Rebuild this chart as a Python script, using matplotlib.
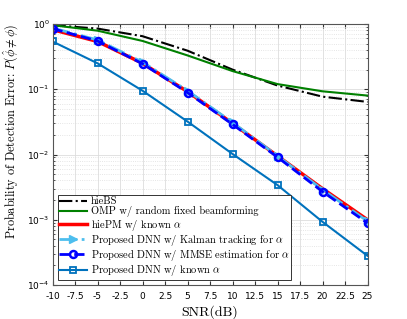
import matplotlib
matplotlib.use("Agg")
import matplotlib.pyplot as plt
from matplotlib.ticker import LogLocator, NullFormatter

plt.rcParams['mathtext.fontset'] = 'cm'

snr = [-10, -5, 0, 5, 10, 15, 20, 25]
hiebs = [0.96, 0.85, 0.65, 0.39, 0.20, 0.114, 0.077, 0.064]
omp = [0.96, 0.79, 0.55, 0.33, 0.19, 0.12, 0.093, 0.080]
hiepm = [0.82, 0.54, 0.25, 0.092, 0.030, 0.0095, 0.0030, 0.0010]
dnn_kalman = [0.87, 0.57, 0.26, 0.095, 0.031, 0.0095, 0.0029, 0.00095]
dnn_mmse = [0.85, 0.55, 0.246, 0.089, 0.029, 0.0091, 0.0027, 0.00089]
dnn_known = [0.54, 0.25, 0.095, 0.032, 0.0102, 0.0034, 0.00093, 0.00028]

xticks = [-10, -7.5, -5, -2.5, 0, 2.5, 5, 7.5, 10, 12.5, 15, 17.5, 20, 22.5, 25]
labels = ['hieBS', 'OMP w/ random fixed beamforming', r'hiePM w/ known $\alpha$',
          r'Proposed DNN w/ Kalman tracking for $\alpha$',
          r'Proposed DNN w/ MMSE estimation for $\alpha$',
          r'Proposed DNN w/ known $\alpha$']

fig = plt.figure(figsize=(4.07, 3.19), dpi=100)
ax = fig.add_axes([52.5/407, 1-285/319, 315/407, 261/319])

ax.plot(snr, hiebs, color='black', linestyle='-.', linewidth=1.5, label=labels[0])
ax.plot(snr, omp, color=(0, 0.5, 0), linestyle='-', linewidth=1.5, label=labels[1])
ax.plot(snr, hiepm, color='red', linestyle='-', linewidth=2.5, label=labels[2])
ax.plot(snr, dnn_kalman, color='#4DBEEE', linestyle='-.', linewidth=2, marker='>',
        markersize=6, label=labels[3])
ax.plot(snr, dnn_mmse, color='blue', linestyle='--', linewidth=2, marker='o',
        markersize=5, markerfacecolor='none', markeredgewidth=1.8, label=labels[4])
ax.plot(snr, dnn_known, color='#0072BD', linestyle='-', linewidth=1.5, marker='s',
        markersize=5, markerfacecolor='none', markeredgewidth=1.3, label=labels[5])

ax.set_yscale('log')
ax.set_xlim(-10, 25)
ax.set_ylim(1e-4, 1)
ax.set_xticks(xticks)
ax.set_xticklabels([('%g' % t) for t in xticks])
ax.yaxis.set_minor_locator(LogLocator(base=10, subs=range(2, 10)))
ax.yaxis.set_minor_formatter(NullFormatter())
ax.tick_params(which='both', direction='in', top=True, right=True, labelsize=6.5,
               color='#333333')
ax.tick_params(axis='x', pad=5)
ax.tick_params(axis='y', pad=2)
ax.tick_params(which='major', length=3)
ax.tick_params(which='minor', length=1.5)
ax.grid(True, which='major', color='#dddddd', linewidth=0.6)
ax.grid(True, which='minor', axis='y', color='#dddddd', linestyle=':', linewidth=0.6)
for s in ax.spines.values():
    s.set_color('#555555')
    s.set_linewidth(0.8)

ax.set_xlabel('SNR(dB)', family='cmr10', fontsize=10)
ax.xaxis.set_label_coords(0.5, -20/261)
ax.set_ylabel(r'Probability of Detection Error: $P(\hat{\phi} \neq \phi)$',
              family='cmr10', fontsize=8.8)
ax.yaxis.set_label_coords(-0.1, 0.588)

leg = ax.legend(loc='lower left', prop={'family': 'cmr10', 'size': 7.5},
                fancybox=False, edgecolor='#333333', framealpha=1,
                borderpad=0.15, labelspacing=0.02, handlelength=2.7,
                handletextpad=0.3, borderaxespad=0.5)
leg.get_frame().set_linewidth(0.7)

fig.savefig('out.png', dpi=100)
